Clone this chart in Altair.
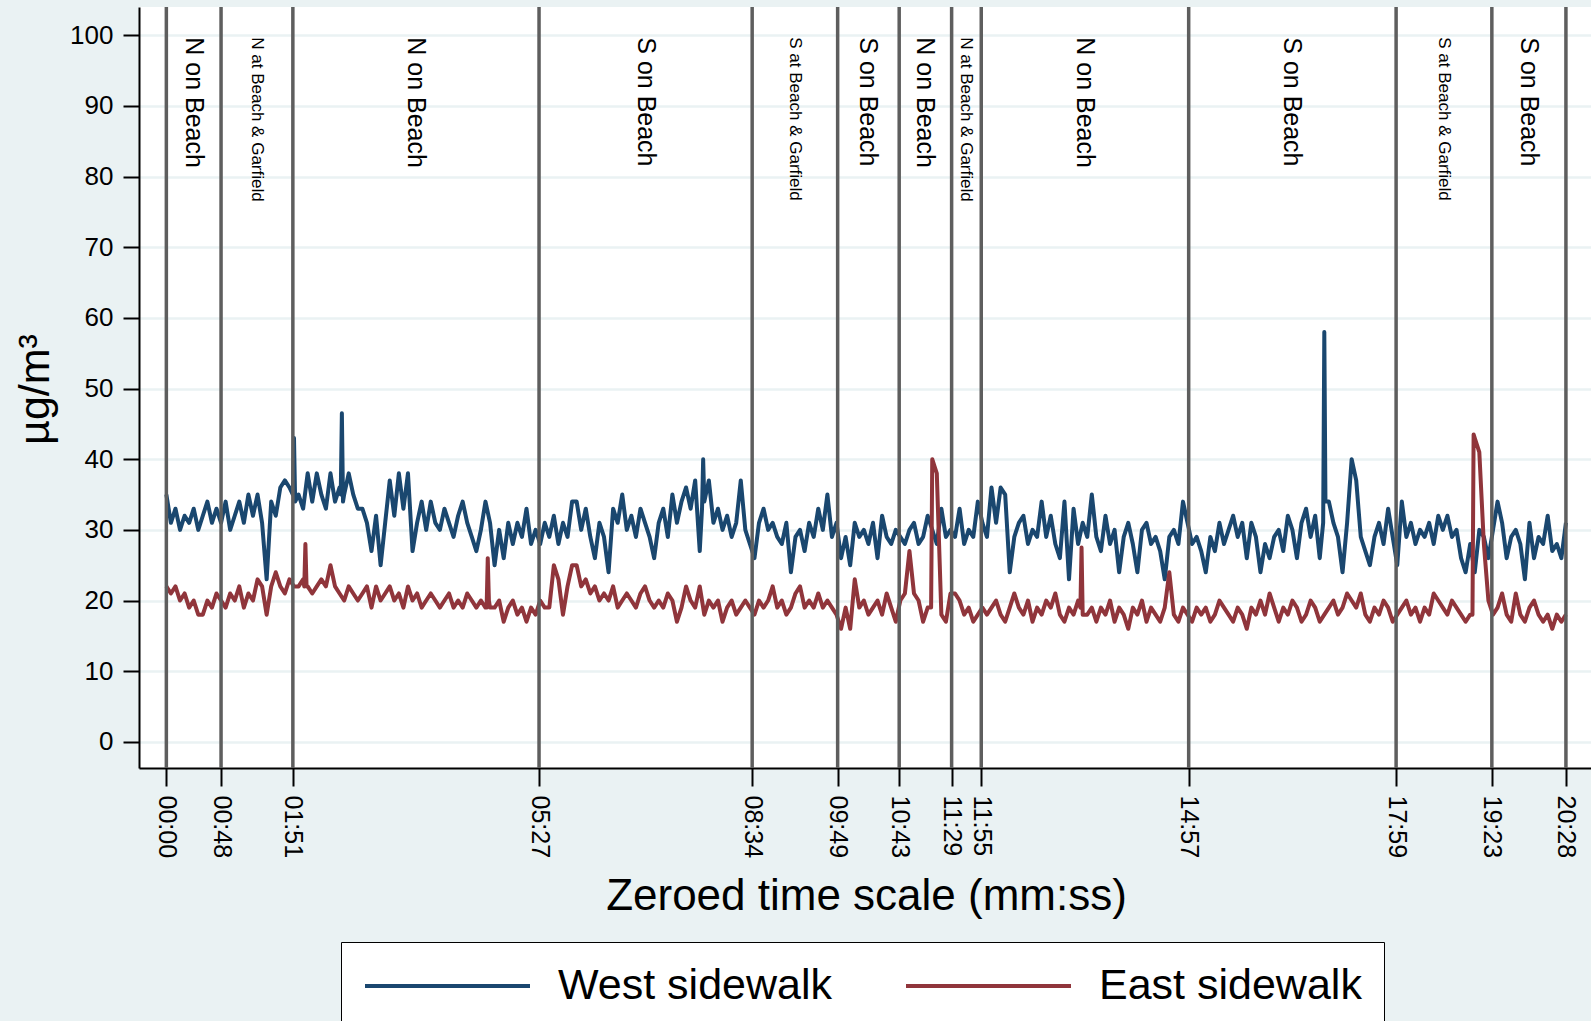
import altair as alt
import pandas as pd

# ---------------- data ----------------
step = 4  # seconds between readings listed below

west = [
    35, 31, 33, 30, 32, 31, 33, 30, 32, 34, 31, 33,
    31, 34, 30, 32, 34, 31, 35, 32, 35, 31, 23, 34,
    32, 36, 37, 36, 43, 35, 33, 38, 34, 38, 35, 33,
    38, 34, 36, 35, 38, 35, 33, 33, 31, 27, 32, 25,
    31, 37, 32, 38, 33, 38, 27, 31, 34, 30, 34, 31,
    30, 33, 31, 29, 32, 34, 31, 29, 27, 30, 34, 31,
    25, 30, 26, 31, 28, 31, 29, 33, 28, 30, 28, 31,
    29, 32, 28, 31, 29, 34, 34, 30, 33, 29, 26, 31,
    29, 24, 33, 31, 35, 30, 32, 29, 33, 31, 29, 26,
    31, 33, 29, 35, 31, 34, 36, 33, 37, 27, 34, 37,
    31, 33, 30, 32, 29, 31, 37, 30, 28, 26, 31, 33,
    30, 31, 29, 28, 31, 24, 29, 30, 27, 31, 29, 33,
    30, 35, 29, 31, 26, 29, 25, 31, 29, 30, 28, 31,
    26, 32, 29, 28, 30, 29, 28, 30, 31, 28, 29, 32,
    30, 28, 33, 29, 30, 29, 33, 28, 30, 29, 34, 31,
    29, 36, 31, 36, 35, 24, 29, 31, 32, 28, 30, 29,
    34, 29, 32, 28, 26, 34, 23, 33, 28, 31, 29, 35,
    29, 27, 32, 28, 30, 24, 29, 31, 28, 24, 30, 31,
    28, 29, 27, 23, 29, 30, 28, 34, 31, 28, 29, 27,
    24, 29, 27, 31, 28, 30, 32, 29, 31, 26, 31, 29,
    24, 28, 26, 29, 30, 27, 32, 30, 26, 31, 33, 29,
    32, 26, 58, 34, 31, 29, 24, 31, 40, 37, 29, 27,
    25, 29, 31, 28, 33, 29, 25, 34, 29, 31, 28, 30,
    29, 31, 28, 32, 30, 32, 29, 30, 26, 24, 28, 24,
    30, 29, 26, 30, 34, 31, 26, 29, 30, 28, 23, 31,
    26, 29, 28, 32, 27, 28, 26, 31,
]

east = [
    22, 21, 22, 20, 21, 19, 20, 18, 18, 20, 19, 21,
    20, 19, 21, 20, 22, 19, 21, 20, 23, 22, 18, 22,
    24, 22, 21, 23, 22, 22, 23, 22, 21, 22, 23, 22,
    25, 22, 21, 20, 22, 21, 20, 21, 22, 19, 22, 20,
    21, 22, 20, 21, 19, 22, 20, 21, 19, 20, 21, 20,
    19, 20, 21, 19, 20, 19, 21, 20, 19, 20, 19, 19,
    19, 20, 17, 19, 20, 18, 19, 17, 19, 18, 20, 19,
    19, 25, 23, 18, 22, 25, 25, 22, 23, 21, 22, 20,
    21, 20, 22, 19, 20, 21, 20, 19, 21, 22, 20, 19,
    20, 19, 21, 20, 17, 19, 22, 20, 19, 22, 18, 20,
    19, 20, 17, 19, 20, 18, 19, 20, 19, 18, 20, 19,
    20, 22, 19, 20, 18, 19, 21, 22, 19, 20, 19, 21,
    19, 20, 19, 18, 16, 19, 16, 23, 19, 20, 18, 19,
    20, 18, 21, 19, 17, 20, 21, 27, 21, 20, 17, 19,
    40, 38, 18, 17, 21, 21, 20, 18, 19, 17, 18, 19,
    18, 19, 20, 18, 17, 19, 21, 19, 18, 20, 17, 19,
    18, 20, 19, 21, 18, 17, 19, 18, 20, 18, 18, 19,
    17, 19, 18, 20, 17, 19, 18, 16, 19, 18, 20, 17,
    19, 18, 17, 19, 24, 18, 17, 19, 18, 17, 19, 18,
    19, 17, 18, 20, 19, 18, 17, 19, 18, 16, 19, 18,
    20, 18, 21, 19, 17, 19, 18, 20, 19, 17, 18, 20,
    19, 17, 18, 19, 20, 18, 19, 21, 20, 19, 21, 18,
    17, 19, 18, 20, 19, 17, 18, 19, 20, 18, 19, 17,
    19, 18, 21, 20, 19, 18, 20, 19, 18, 17, 18, 43,
    41, 28, 20, 18, 19, 21, 18, 17, 21, 18, 17, 19,
    20, 18, 17, 18, 16, 18, 17, 18,
]

# extra one-second readings around the sharp spikes
west_extra_t = [111, 113, 153, 154, 155, 470, 471, 1015, 1017]
west_extra_v = [35, 34, 35, 46.5, 34, 33, 40, 31, 34]
east_extra_t = [121, 122, 123, 281, 282, 283, 671, 674, 802, 803, 804, 1146, 1147]
east_extra_v = [22, 28, 22, 19, 26, 20, 19, 39, 19, 27.5, 18, 18, 43.5]

series_names = ["West sidewalk", "East sidewalk"]
series_colors = ["#1A476F", "#90353B"]

boundaries = [0, 48, 111, 327, 514, 589, 643, 689, 715, 897, 1079, 1163, 1228]
boundary_labels = ["00:00", "00:48", "01:51", "05:27", "08:34", "09:49", "10:43",
                   "11:29", "11:55", "14:57", "17:59", "19:23", "20:28"]
segment_labels = ["N on Beach", "N at Beach & Garfield", "N on Beach", "S on Beach",
                  "S at Beach & Garfield", "S on Beach", "N on Beach",
                  "N at Beach & Garfield", "N on Beach", "S on Beach",
                  "S at Beach & Garfield", "S on Beach"]


def build(vals, et, ev, name):
    d = {i * step: v for i, v in enumerate(vals)}
    for t, v in zip(et, ev):
        d[t] = v
    ks = sorted(d)
    return pd.DataFrame({"t": ks, "v": [d[k] for k in ks], "series": name})


df_w = build(west, west_extra_t, west_extra_v, series_names[0])
df_e = build(east, east_extra_t, east_extra_v, series_names[1])
df_rules = pd.DataFrame({"t": boundaries})
df_text = pd.DataFrame({
    "t": [(a + b) / 2 for a, b in zip(boundaries[:-1], boundaries[1:])],
    "label": segment_labels,
})
is_small = df_text["label"].str.contains(" at ")
df_text_big = df_text[~is_small]
df_text_small = df_text[is_small]

FONT = "Liberation Sans"

label_expr = ""
for b, lab in zip(boundaries, boundary_labels):
    label_expr += f"datum.value == {b} ? '{lab}' : "
label_expr += "''"

x_axis = alt.Axis(
    values=boundaries, labelExpr=label_expr, labelAngle=90, grid=False,
    tickSize=18, tickWidth=2, tickColor="black", domainColor="black", domainWidth=2,
    labelFont=FONT, labelFontSize=25, labelColor="black", labelPadding=9,
    labelOverlap=False, labelFlush=False,
    title="Zeroed time scale (mm:ss)", titleFont=FONT, titleFontSize=44,
    titleFontWeight="normal", titleColor="black",
    titleX=727, titleY=141, titleAlign="center", titleBaseline="alphabetic",
)
x_scale = alt.Scale(domain=[-24, 1250], nice=False, zero=False)

y_axis = alt.Axis(
    values=list(range(0, 101, 10)), grid=True, gridColor="#EAF2F3", gridWidth=2.5,
    tickSize=16, tickWidth=2, tickColor="black", domainColor="black", domainWidth=2,
    labelFont=FONT, labelFontSize=26, labelColor="black", labelPadding=10,
    title="µg/m³", titleFont=FONT, titleFontSize=43, titleFontWeight="normal",
    titleColor="black", titleAngle=270, titleX=-104, titleY=382,
    titleAlign="center", titleBaseline="middle",
)
y_scale = alt.Scale(domain=[-3.7, 104], nice=False, zero=False)

color_enc = alt.Color(
    "series:N",
    scale=alt.Scale(domain=series_names, range=series_colors),
    legend=alt.Legend(
        orient="none", legendX=202, legendY=935, direction="horizontal", title=None,
        symbolType="stroke", symbolSize=27225, symbolStrokeWidth=4,
        clipHeight=44,
        labelFont=FONT, labelFontSize=43, labelColor="black", labelLimit=500,
        labelOffset=26, columnPadding=71, padding=22,
        strokeColor="black", fillColor="white",
    ),
)


def line_layer(df):
    return alt.Chart(df).mark_line(strokeWidth=4, strokeJoin="round").encode(
        x=alt.X("t:Q", scale=x_scale, axis=x_axis),
        y=alt.Y("v:Q", scale=y_scale, axis=y_axis),
        color=color_enc,
        order="t:Q",
    )


rules = alt.Chart(df_rules).mark_rule(color="#5E5E5E", strokeWidth=3.5).encode(
    x=alt.X("t:Q", scale=x_scale, axis=x_axis),
)

text_big = alt.Chart(df_text_big).mark_text(
    angle=90, align="left", baseline="middle", font=FONT, fontSize=25,
    color="black", dx=2).encode(
    x=alt.X("t:Q", scale=x_scale, axis=x_axis),
    y=alt.datum(100),
    text="label:N",
)
text_small = alt.Chart(df_text_small).mark_text(
    angle=90, align="left", baseline="middle", font=FONT, fontSize=17,
    color="black", dx=2).encode(
    x=alt.X("t:Q", scale=x_scale, axis=x_axis),
    y=alt.datum(100),
    text="label:N",
)

chart = alt.layer(
    line_layer(df_w), line_layer(df_e), rules, text_big, text_small
).properties(
    width=1452, height=761, background="#EAF2F3",
    padding={"left": 139, "top": 7, "right": 0, "bottom": 253},
    autosize=alt.AutoSizeParams(type="none"),
).configure_view(fill="white", stroke=None)

chart.save("out.html", embed_options={"renderer": "svg", "actions": False})
